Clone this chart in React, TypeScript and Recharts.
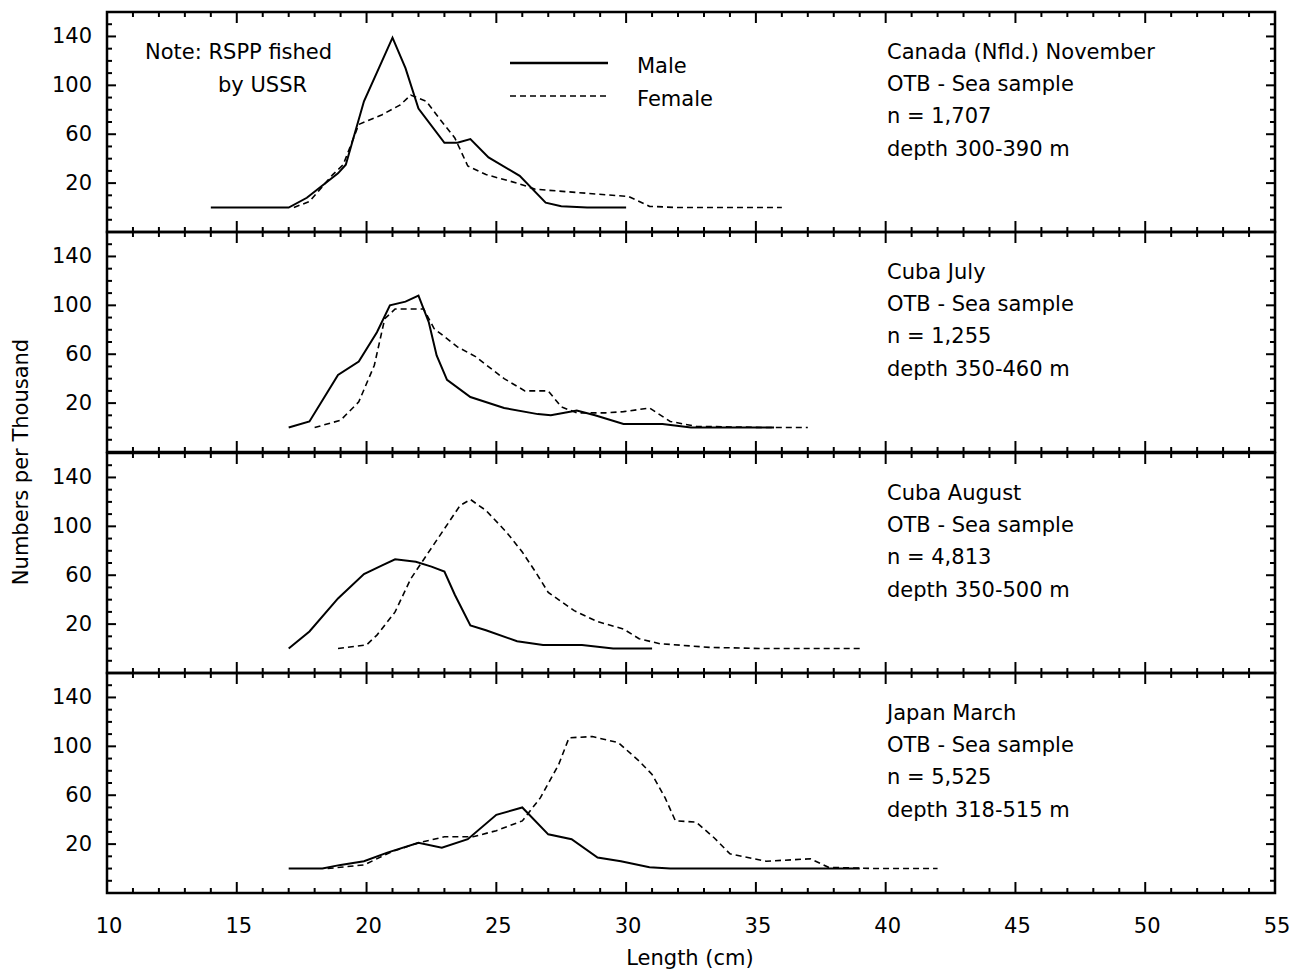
import { LineChart, Line, XAxis, YAxis, ReferenceArea } from "recharts";

// length classes (cm) and numbers per thousand
const canadaMaleLen = [14, 17, 17.7, 18.9, 19.2, 19.9, 20.6, 21, 21.5, 22, 23, 23.5, 24, 24.7, 25.9, 26.9, 27.5, 28.5, 30];
const canadaMaleVal = [0, 0, 8, 28, 35, 87, 120, 139, 114, 81, 53, 53, 56, 41, 26, 4, 1, 0, 0];
const canadaFemaleLen = [17.2, 17.8, 18.7, 19.1, 19.7, 20.6, 21.3, 21.7, 22.3, 22.8, 23.4, 23.9, 24.6, 25.8, 26.5, 27.7, 28.9, 30.1, 30.9, 32, 36];
const canadaFemaleVal = [0, 5, 27, 35, 68, 76, 84, 92, 87, 73, 57, 34, 27, 20, 15, 13, 11, 9, 1, 0, 0];

const julyMaleLen = [17, 17.8, 18.9, 19.7, 20.4, 20.9, 21.5, 22, 22.4, 22.7, 23.1, 24, 25.3, 26.6, 27.1, 28.1, 28.8, 29.9, 31.4, 32.5, 35.7];
const julyMaleVal = [0, 5, 43, 54, 78, 100, 103, 108, 86, 59, 39, 25, 16, 11, 10, 14, 10, 3, 3, 0, 0];
const julyFemaleLen = [18, 19, 19.7, 20.3, 20.7, 21.1, 22.2, 22.6, 23.5, 24.2, 25.3, 26.1, 27, 27.5, 28.1, 29.2, 29.9, 30.9, 31.7, 32.7, 35.5, 37];
const julyFemaleVal = [0, 6, 21, 51, 89, 97, 97, 81, 66, 58, 40, 30, 30, 17, 12, 12, 13, 16, 5, 1, 0, 0];

const augMaleLen = [17, 17.8, 18.9, 19.9, 20.6, 21.1, 21.9, 22.5, 23, 23.4, 24, 24.6, 25.8, 26.8, 28.3, 29.5, 31];
const augMaleVal = [0, 14, 41, 61, 68, 73, 71, 67, 63, 44, 19, 15, 6, 3, 3, 0, 0];
const augFemaleLen = [18.9, 20, 20.4, 21.1, 21.7, 22.3, 23, 23.6, 24, 24.6, 25.4, 26, 26.5, 27, 28, 28.9, 29.9, 30.5, 31.3, 33.2, 35.2, 39];
const augFemaleVal = [0, 3, 11, 30, 57, 76, 98, 117, 122, 113, 95, 79, 63, 46, 31, 22, 16, 8, 4, 1, 0, 0];

const japanMaleLen = [17, 18.3, 19, 19.9, 20.8, 22, 22.9, 23.9, 25, 26, 27, 27.9, 28.9, 29.8, 30.9, 31.7, 39];
const japanMaleVal = [0, 0, 3, 6, 13, 21, 17, 24, 44, 50, 28, 24, 9, 6, 1, 0, 0];
const japanFemaleLen = [18.5, 19.9, 21, 22, 23, 24.1, 25, 26, 26.7, 27.4, 27.8, 28.7, 29.7, 30.5, 31, 31.5, 31.9, 32.7, 33.4, 34, 35.4, 37.1, 37.8, 39.6, 42];
const japanFemaleVal = [0, 3, 14, 21, 26, 26, 31, 39, 58, 85, 107, 108, 103, 88, 77, 58, 39, 38, 25, 12, 6, 8, 1, 0, 0];

const panelNotes = [
  ["Canada (Nfld.) November", "OTB - Sea sample", "n = 1,707", "depth 300-390 m"],
  ["Cuba July", "OTB - Sea sample", "n = 1,255", "depth 350-460 m"],
  ["Cuba August", "OTB - Sea sample", "n = 4,813", "depth 350-500 m"],
  ["Japan March", "OTB - Sea sample", "n = 5,525", "depth 318-515 m"],
];

const xTicks = [10, 11, 12, 13, 14, 15, 16, 17, 18, 19, 20, 21, 22, 23, 24, 25, 26, 27, 28, 29, 30, 31, 32, 33, 34, 35, 36, 37, 38, 39, 40, 41, 42, 43, 44, 45, 46, 47, 48, 49, 50, 51, 52, 53, 54, 55];
const yTicks = [-10, 0, 10, 20, 30, 40, 50, 60, 70, 80, 90, 100, 110, 120, 130, 140, 150];
const yLabelTicks = [20, 60, 100, 140];

const zip = (len: number[], val: number[]) => len.map((l, i) => ({ len: l, v: val[i] }));

const panels = [
  { male: zip(canadaMaleLen, canadaMaleVal), female: zip(canadaFemaleLen, canadaFemaleVal) },
  { male: zip(julyMaleLen, julyMaleVal), female: zip(julyFemaleLen, julyFemaleVal) },
  { male: zip(augMaleLen, augMaleVal), female: zip(augFemaleLen, augFemaleVal) },
  { male: zip(japanMaleLen, japanMaleVal), female: zip(japanFemaleLen, japanFemaleVal) },
];

const FONT = "'DejaVu Sans', sans-serif";
const PANEL_TOP = [12, 232, 453, 673];
const PANEL_H = 220;
const LEFT = 107;
const PLOT_W = 1168;

function makeXTick(showLabel: boolean) {
  return (props: any) => {
    const { x, y, payload } = props;
    const major = payload.value % 5 === 0;
    const len = major ? 11 : 5;
    return (
      <g>
        <line x1={x} x2={x} y1={y} y2={y - len} stroke="#000" strokeWidth={2} />
        <line x1={x} x2={x} y1={y - PANEL_H} y2={y - PANEL_H + len} stroke="#000" strokeWidth={2} />
        {showLabel && major && (
          <text x={x + 2} y={y + 33} textAnchor="middle" dominantBaseline="central" fontSize={21} fontFamily={FONT} fill="#000">
            {payload.value}
          </text>
        )}
      </g>
    );
  };
}

function YTick(props: any) {
  const { x, y, payload } = props;
  const major = yLabelTicks.includes(payload.value);
  const len = major ? 9 : 5;
  return (
    <g>
      <line x1={x} x2={x + len} y1={y} y2={y} stroke="#000" strokeWidth={2} />
      <line x1={x + PLOT_W} x2={x + PLOT_W - len} y1={y} y2={y} stroke="#000" strokeWidth={2} />
      {major && (
        <text x={x - 15} y={y} textAnchor="end" dominantBaseline="central" fontSize={21} fontFamily={FONT} fill="#000">
          {payload.value}
        </text>
      )}
    </g>
  );
}

export default function App() {
  return (
    <div style={{ position: "absolute", left: 0, top: 0, width: 1305, height: 976, background: "#fff", fontFamily: FONT }}>
      {panels.map((p, i) => {
        const last = i === panels.length - 1;
        const bottom = last ? 80 : 12;
        return (
          <div key={i} style={{ position: "absolute", left: 0, top: PANEL_TOP[i] - 12 }}>
            <LineChart width={1305} height={PANEL_H + 12 + bottom} margin={{ top: 12, right: 30, bottom: bottom - 1, left: LEFT - 1 }}>
              <XAxis
                dataKey="len"
                type="number"
                domain={[10, 55]}
                ticks={xTicks}
                interval={0}
                allowDataOverflow
                height={1}
                tickSize={0}
                tickMargin={0}
                axisLine={false}
                tickLine={false}
                tick={makeXTick(last)}
              />
              <YAxis
                type="number"
                domain={[-20, 160]}
                ticks={yTicks}
                interval={0}
                allowDataOverflow
                width={1}
                tickSize={0}
                tickMargin={0}
                axisLine={false}
                tickLine={false}
                tick={YTick}
              />
              <ReferenceArea x1={10} x2={55} y1={-20} y2={160} fill="none" stroke="#000" strokeWidth={2.5} ifOverflow="visible" />
              <Line data={p.male} dataKey="v" type="linear" stroke="#000" strokeWidth={2} dot={false} isAnimationActive={false} />
              <Line data={p.female} dataKey="v" type="linear" stroke="#000" strokeWidth={1.6} strokeDasharray="6 4" dot={false} isAnimationActive={false} />
            </LineChart>
          </div>
        );
      })}

      <svg width={1305} height={976} style={{ position: "absolute", left: 0, top: 0, pointerEvents: "none" }}>
        <g fontFamily={FONT} fontSize={21} fill="#000">
          {panelNotes.map((lines, i) =>
            lines.map((t, j) => (
              <text key={`${i}-${j}`} x={887} y={PANEL_TOP[i] + [40, 72, 104, 137][j]} dominantBaseline="central">
                {t}
              </text>
            ))
          )}
          <text x={145} y={52} dominantBaseline="central">Note: RSPP fished</text>
          <text x={218} y={85} dominantBaseline="central">by USSR</text>
          <line x1={510} x2={608} y1={63} y2={63} stroke="#000" strokeWidth={2.5} />
          <text x={637} y={66} dominantBaseline="central">Male</text>
          <line x1={510} x2={608} y1={96} y2={96} stroke="#000" strokeWidth={1.6} strokeDasharray="6 4" />
          <text x={637} y={99} dominantBaseline="central">Female</text>
          <text x={690} y={958} textAnchor="middle" dominantBaseline="central" fontSize={21}>Length (cm)</text>
          <text x={21} y={462} textAnchor="middle" dominantBaseline="central" fontSize={21} transform="rotate(-90 21 462)">
            Numbers per Thousand
          </text>
        </g>
      </svg>
    </div>
  );
}
